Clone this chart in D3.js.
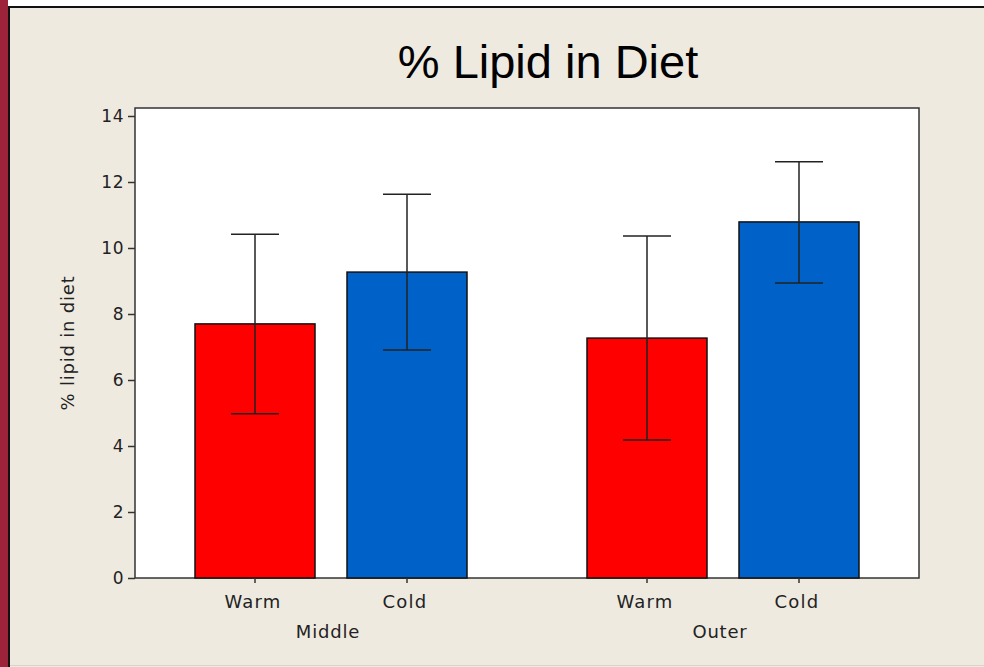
<!DOCTYPE html>
<html>
<head>
<meta charset="utf-8">
<script src="https://cdn.jsdelivr.net/npm/d3@7"></script>
<style>
  html, body { margin: 0; padding: 0; background: #EEEAE0; }
  svg { display: block; }
</style>
</head>
<body>
<svg id="chart" width="984" height="667"></svg>
<script>
// Mean % lipid in diet, by zone and water temperature, with error bars
const groups = ["Middle", "Outer"];
const conditions = ["Warm", "Cold"];
const means = [7.70, 9.27, 7.27, 10.79];
const upper = [10.42, 11.63, 10.36, 12.61];
const lower = [4.98, 6.91, 4.18, 8.94];
const yTicks = [0, 2, 4, 6, 8, 10, 12, 14];
const colors = { Warm: "#FF0000", Cold: "#0062C8" };

const rows = [];
groups.forEach((g, gi) => conditions.forEach((c, ci) => {
  const i = gi * conditions.length + ci;
  rows.push({ group: g, cond: c, mean: means[i], hi: upper[i], lo: lower[i] });
}));

const svg = d3.select("#chart");
const W = 984, H = 667;
const frame = { left: 135, right: 919, top: 108, bottom: 578 };
const font = "'DejaVu Sans', Verdana, sans-serif";

// page chrome: side strip, rules
svg.append("rect").attr("width", W).attr("height", H).attr("fill", "#EEEAE0");
svg.append("rect").attr("x", 0).attr("y", 0).attr("width", W).attr("height", 6).attr("fill", "#FFFFFF");
svg.append("rect").attr("x", 0).attr("y", 0).attr("width", 8).attr("height", H).attr("fill", "#9C2339");
svg.append("line").attr("x1", 8).attr("x2", W).attr("y1", 7).attr("y2", 7)
  .attr("stroke", "#111").attr("stroke-width", 2);
svg.append("line").attr("x1", 9).attr("x2", 9).attr("y1", 6).attr("y2", H)
  .attr("stroke", "#111").attr("stroke-width", 2);
svg.append("line").attr("x1", 10).attr("x2", W).attr("y1", 665.5).attr("y2", 665.5)
  .attr("stroke", "#D8D4CA").attr("stroke-width", 1);

// scales
const y = d3.scaleLinear().domain([0, 14]).range([frame.bottom, 116]);
const xGroup = d3.scalePoint().domain(groups).range([frame.left, frame.right]).padding(0.5);
const xInner = d3.scalePoint().domain(conditions).range([-76, 76]);
const barW = 120, capW = 48;
const cx = d => xGroup(d.group) + xInner(d.cond);

// plot frame
svg.append("rect")
  .attr("x", frame.left).attr("y", frame.top)
  .attr("width", frame.right - frame.left).attr("height", frame.bottom - frame.top)
  .attr("fill", "#FFFFFF").attr("stroke", "#333").attr("stroke-width", 1.5);

// title
svg.append("text")
  .attr("x", 548).attr("y", 78).attr("text-anchor", "middle")
  .attr("font-family", "'Liberation Sans', Arial, sans-serif").attr("font-size", 47)
  .attr("fill", "#000").text("% Lipid in Diet");

// y axis
const yAxis = svg.append("g")
  .attr("transform", `translate(${frame.left},0)`)
  .call(d3.axisLeft(y).tickValues(yTicks).tickSize(7).tickPadding(4));
yAxis.select(".domain").remove();
yAxis.selectAll(".tick line").attr("stroke", "#333").attr("stroke-width", 1.5);
yAxis.selectAll(".tick text").attr("font-family", font).attr("font-size", 17)
  .attr("letter-spacing", 0.5).attr("fill", "#222");

svg.append("text")
  .attr("transform", `translate(74,343) rotate(-90)`)
  .attr("text-anchor", "middle")
  .attr("font-family", font).attr("font-size", 18).attr("letter-spacing", 0.8).attr("fill", "#222")
  .text("% lipid in diet");

// bars
svg.append("g").selectAll("rect").data(rows).join("rect")
  .attr("x", d => cx(d) - barW / 2).attr("width", barW)
  .attr("y", d => y(d.mean)).attr("height", d => y(0) - y(d.mean))
  .attr("fill", d => colors[d.cond]).attr("stroke", "#111").attr("stroke-width", 1.5);

// error bars
const eb = svg.append("g").attr("stroke", "#222").attr("stroke-width", 1.5);
eb.selectAll("line.v").data(rows).join("line").attr("class", "v")
  .attr("x1", cx).attr("x2", cx).attr("y1", d => y(d.hi)).attr("y2", d => y(d.lo));
eb.selectAll("line.t").data(rows).join("line").attr("class", "t")
  .attr("x1", d => cx(d) - capW / 2).attr("x2", d => cx(d) + capW / 2)
  .attr("y1", d => y(d.hi)).attr("y2", d => y(d.hi));
eb.selectAll("line.b").data(rows).join("line").attr("class", "b")
  .attr("x1", d => cx(d) - capW / 2).attr("x2", d => cx(d) + capW / 2)
  .attr("y1", d => y(d.lo)).attr("y2", d => y(d.lo));

// x axis: condition ticks and labels, then group labels
const xt = svg.append("g");
xt.selectAll("line").data(rows).join("line")
  .attr("x1", cx).attr("x2", cx).attr("y1", frame.bottom).attr("y2", frame.bottom + 5)
  .attr("stroke", "#333").attr("stroke-width", 1.5);
xt.selectAll("text").data(rows).join("text")
  .attr("x", d => cx(d) - 2).attr("y", 608).attr("text-anchor", "middle")
  .attr("font-family", font).attr("font-size", 18).attr("letter-spacing", 1.2).attr("fill", "#222")
  .text(d => d.cond);
svg.append("g").selectAll("text").data(groups).join("text")
  .attr("x", d => xGroup(d) - 3).attr("y", 638).attr("text-anchor", "middle")
  .attr("font-family", font).attr("font-size", 18).attr("letter-spacing", 0.8).attr("fill", "#222")
  .text(d => d);
</script>
</body>
</html>
